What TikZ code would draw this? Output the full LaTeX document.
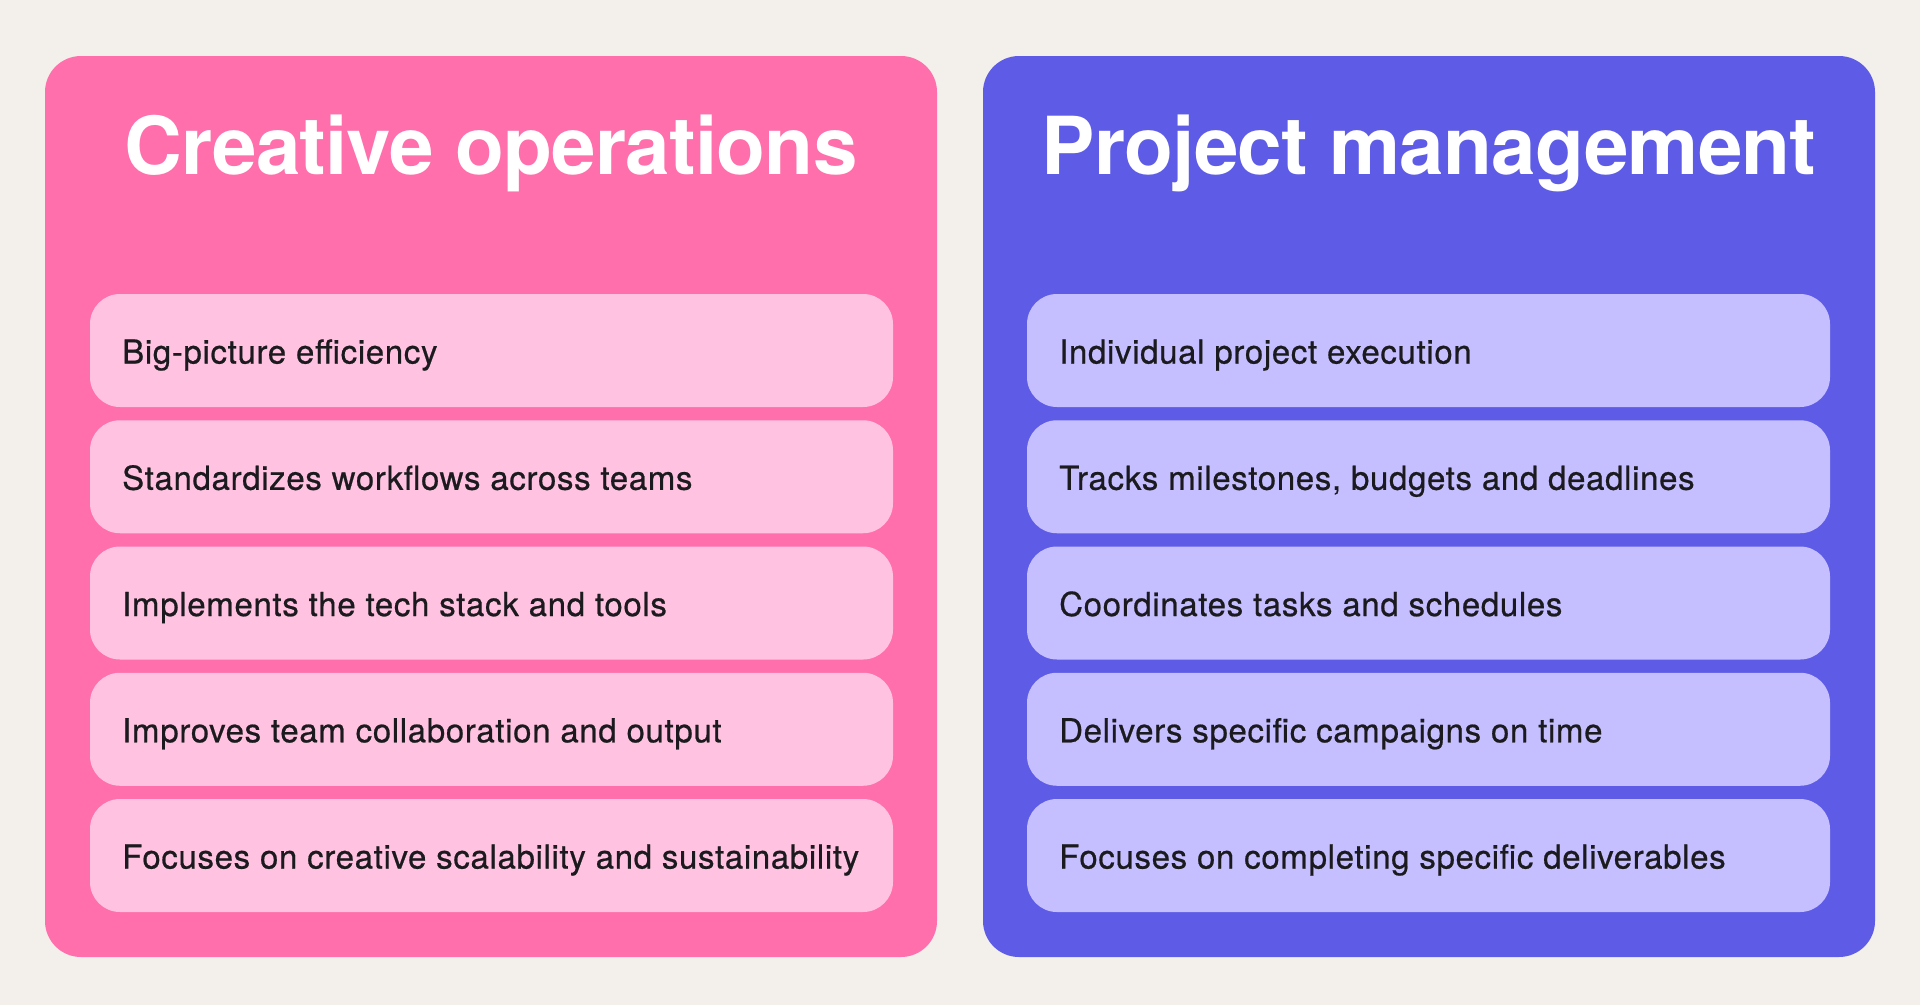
\documentclass[tikz,border=0pt]{standalone}
\usepackage{fontspec}
\setmainfont{TeX Gyre Heros}
\newfontfamily\itemfont[FakeBold=0.6,LetterSpace=2]{TeX Gyre Heros}
\newfontfamily\titlefont[LetterSpace=-1]{TeX Gyre Heros Bold}
\definecolor{bgc}{HTML}{F3F0EC}
\definecolor{pinkc}{HTML}{FF6FAB}
\definecolor{lpinkc}{HTML}{FFC3E1}
\definecolor{bluec}{HTML}{5E5CE6}
\definecolor{lavc}{HTML}{C5BFFF}
\definecolor{inkc}{HTML}{1B1A1E}
\tikzset{
  panel/.style={rectangle, rounded corners=36pt, minimum width=892pt, minimum height=901pt, inner sep=0pt},
  itembox/.style={rectangle, rounded corners=30pt, minimum width=803pt, minimum height=113pt, inner sep=0pt},
  itemtext/.style={anchor=base west, inner sep=0pt, text=inkc, font=\itemfont\fontsize{33}{36}\selectfont},
  titletext/.style={anchor=base, inner sep=0pt, text=white, font=\titlefont\fontsize{80}{90}\selectfont}
}
\begin{document}
\begin{tikzpicture}[x=1pt,y=1pt]
\fill[bgc] (0,0) rectangle (1920,-1005);
\useasboundingbox (0,0) rectangle (1920,-1005);
\node[panel, fill=pinkc] (pl) at (491,-506.5) {};
\node[panel, fill=bluec] (pr) at (1429,-506.5) {};
\node[titletext] (tl) at (491,-174) {Creative operations};
\node[titletext] (tr) at (1429,-174) {Project management};
\foreach \i/\t in {1/Big-picture efficiency,2/Standardizes workflows across teams,3/Implements the tech stack and tools,4/Improves team collaboration and output,5/Focuses on creative scalability and sustainability}{
  \node[itembox, fill=lpinkc] (l\i) at (491.5,{-350.5-126.25*(\i-1)}) {};
  \node[itemtext] (lt\i) at (122,{-363.5-126.25*(\i-1)}) {\t};
}
\foreach \i/\t in {1/Individual project execution,2/{Tracks milestones, budgets and deadlines},3/Coordinates tasks and schedules,4/Delivers specific campaigns on time,5/Focuses on completing specific deliverables}{
  \node[itembox, fill=lavc] (r\i) at (1428.5,{-350.5-126.25*(\i-1)}) {};
  \node[itemtext] (rt\i) at (1059,{-363.5-126.25*(\i-1)}) {\t};
}
\end{tikzpicture}
\end{document}
